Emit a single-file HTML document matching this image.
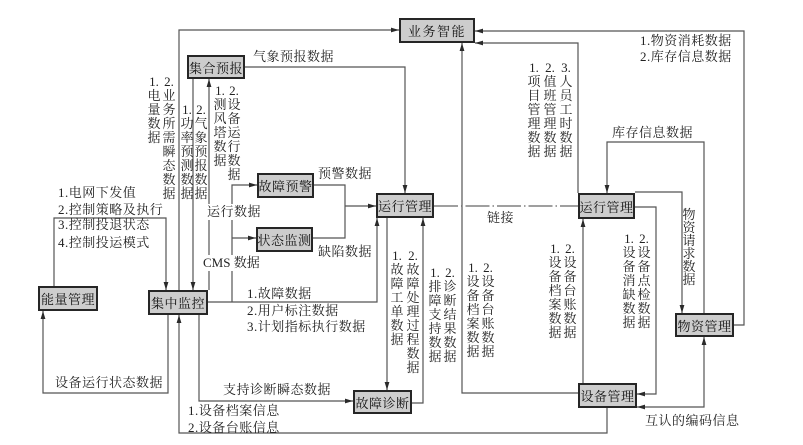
<!DOCTYPE html>
<html><head><meta charset="utf-8">
<style>
html,body{margin:0;padding:0;background:#fff;}
#c{position:relative;width:803px;height:445px;overflow:hidden;background:#fff;
font-family:"Liberation Serif","Noto Serif CJK SC",serif;color:#1a1a1a;}
svg{position:absolute;left:0;top:0;}
.b{position:absolute;box-sizing:border-box;border:2px solid #262626;background:#cdcdcd;
display:flex;align-items:center;justify-content:center;font-size:13px;white-space:nowrap;letter-spacing:0.5px;color:#111;}
.t{position:absolute;font-size:13px;line-height:16px;white-space:nowrap;letter-spacing:0.5px;color:#222;}
.w{background:#fff;}
.v{position:absolute;width:16px;font-size:13px;line-height:14px;text-align:center;color:#222;}
</style></head><body><div id="c">
<svg width="803" height="445" viewBox="0 0 803 445">
<defs>
<marker id="a" viewBox="0 0 8 6" refX="8" refY="3" markerWidth="8" markerHeight="6" markerUnits="userSpaceOnUse" orient="auto-start-reverse"><path d="M0,0.6 L8,3 L0,5.4 z" fill="#2a2a2a"/></marker>
</defs>
<g fill="none" stroke="#555" stroke-width="1.2">
<path d="M179,290 V30 H399" marker-end="url(#a)"/>
<path d="M193,79 V290" marker-end="url(#a)"/>
<path d="M209,290 V79" marker-end="url(#a)"/>
<path d="M54,286 V218 H166 V290" marker-end="url(#a)"/>
<path d="M168,315 V393 H43 V311" marker-end="url(#a)"/>
<path d="M607,408 V433 H179 V315" marker-end="url(#a)"/>
<path d="M199,315 V401 H353" marker-end="url(#a)"/>
<path d="M208,302 H377 V218" marker-end="url(#a)"/>
<path d="M232,302 V185 H257" marker-end="url(#a)"/>
<path d="M232,238 H256" marker-end="url(#a)"/>
<path d="M245,67 H405 V193" marker-end="url(#a)"/>
<path d="M314,185 H345 V238 H313"/>
<path d="M345,206 H376" marker-end="url(#a)"/>
<path d="M387,218 V390" marker-end="url(#a)"/>
<path d="M412,403 H423 V218" marker-end="url(#a)"/>
<path d="M578,393 H462 V43" marker-end="url(#a)"/>
<path d="M434,206 H578" stroke-dasharray="24 3 1.5 3" stroke="#666"/>
<path d="M583,383 V219" marker-end="url(#a)"/>
<path d="M734,325 H744 V31 H475" marker-end="url(#a)"/>
<path d="M578,193 V43 H475" marker-end="url(#a)"/>
<path d="M704,313 V142 H607 V193" marker-end="url(#a)"/>
<path d="M635,192 H682 V313" marker-end="url(#a)"/>
<path d="M635,207 H656 V394 H637" marker-end="url(#a)"/>
<path d="M637,407 H704 V337" marker-start="url(#a)" marker-end="url(#a)"/>
</g>
</svg>

<!-- boxes -->
<div class="b" style="left:399px;top:18px;width:76px;height:25px;letter-spacing:1.5px;">业务智能</div>
<div class="b" style="left:187px;top:55px;width:58px;height:24px;">集合预报</div>
<div class="b" style="left:257px;top:173px;width:57px;height:25px;">故障预警</div>
<div class="b" style="left:256px;top:227px;width:57px;height:25px;">状态监测</div>
<div class="b" style="left:376px;top:193px;width:58px;height:25px;">运行管理</div>
<div class="b" style="left:148px;top:290px;width:60px;height:25px;">集中监控</div>
<div class="b" style="left:38px;top:286px;width:60px;height:25px;">能量管理</div>
<div class="b" style="left:353px;top:390px;width:59px;height:24px;">故障诊断</div>
<div class="b" style="left:578px;top:193px;width:57px;height:26px;">运行管理</div>
<div class="b" style="left:578px;top:383px;width:59px;height:25px;">设备管理</div>
<div class="b" style="left:675px;top:313px;width:59px;height:24px;">物资管理</div>

<!-- horizontal labels -->
<div class="t" style="left:253px;top:49px;">气象预报数据</div>
<div class="t" style="left:318px;top:166px;">预警数据</div>
<div class="t w" style="left:207px;top:204px;">运行数据</div>
<div class="t" style="left:318px;top:244px;">缺陷数据</div>
<div class="t w" style="left:203px;top:255px;letter-spacing:0;">CMS 数据</div>
<div class="t" style="left:247px;top:286px;">1.故障数据</div>
<div class="t" style="left:247px;top:303px;">2.用户标注数据</div>
<div class="t" style="left:247px;top:319px;">3.计划指标执行数据</div>
<div class="t" style="left:223px;top:382px;">支持诊断瞬态数据</div>
<div class="t" style="left:188px;top:403px;">1.设备档案信息</div>
<div class="t" style="left:188px;top:420px;">2.设备台账信息</div>
<div class="t" style="left:55px;top:375px;">设备运行状态数据</div>
<div class="t" style="left:58px;top:185px;">1.电网下发值</div>
<div class="t" style="left:58px;top:202px;">2.控制策略及执行</div>
<div class="t" style="left:58px;top:217px;">3.控制投退状态</div>
<div class="t" style="left:58px;top:235px;">4.控制投运模式</div>
<div class="t" style="left:487px;top:210px;">链接</div>
<div class="t" style="left:640px;top:33px;">1.物资消耗数据</div>
<div class="t" style="left:640px;top:49px;">2.库存信息数据</div>
<div class="t" style="left:612px;top:125px;">库存信息数据</div>
<div class="t" style="left:645px;top:413px;">互认的编码信息</div>

<!-- vertical labels -->
<div class="v" style="left:146px;top:75px;">1.<br>电<br>量<br>数<br>据</div>
<div class="v" style="left:161px;top:75px;">2.<br>业<br>务<br>所<br>需<br>瞬<br>态<br>数<br>据</div>
<div class="v" style="left:179px;top:103px;">1.<br>功<br>率<br>预<br>测<br>数<br>据</div>
<div class="v" style="left:193px;top:103px;">2.<br>气<br>象<br>预<br>报<br>数<br>据</div>
<div class="v" style="left:212px;top:84px;">1.<br>测<br>风<br>塔<br>数<br>据</div>
<div class="v" style="left:226px;top:84px;">2.<br>设<br>备<br>运<br>行<br>数<br>据</div>
<div class="v" style="left:389px;top:249px;">1.<br>故<br>障<br>工<br>单<br>数<br>据</div>
<div class="v" style="left:405px;top:249px;">2.<br>故<br>障<br>处<br>理<br>过<br>程<br>数<br>据</div>
<div class="v" style="left:427px;top:266px;">1.<br>排<br>障<br>支<br>持<br>数<br>据</div>
<div class="v" style="left:442px;top:266px;">2.<br>诊<br>断<br>结<br>果<br>数<br>据</div>
<div class="v" style="left:465px;top:261px;">1.<br>设<br>备<br>档<br>案<br>数<br>据</div>
<div class="v" style="left:480px;top:261px;">2.<br>设<br>备<br>台<br>账<br>数<br>据</div>
<div class="v" style="left:547px;top:242px;">1.<br>设<br>备<br>档<br>案<br>数<br>据</div>
<div class="v" style="left:562px;top:242px;">2.<br>设<br>备<br>台<br>账<br>数<br>据</div>
<div class="v" style="left:526px;top:61px;">1.<br>项<br>目<br>管<br>理<br>数<br>据</div>
<div class="v" style="left:542px;top:61px;">2.<br>值<br>班<br>管<br>理<br>数<br>据</div>
<div class="v" style="left:558px;top:61px;">3.<br>人<br>员<br>工<br>时<br>数<br>据</div>
<div class="v" style="left:621px;top:232px;">1.<br>设<br>备<br>消<br>缺<br>数<br>据</div>
<div class="v" style="left:636px;top:232px;">2.<br>设<br>备<br>点<br>检<br>数<br>据</div>
<div class="v" style="left:681px;top:208px;line-height:13px;">物<br>资<br>请<br>求<br>数<br>据</div>
</div></body></html>
